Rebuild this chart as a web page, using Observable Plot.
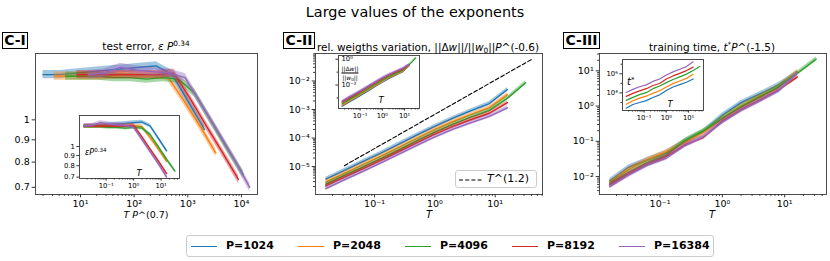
<!DOCTYPE html>
<html><head><meta charset="utf-8">
<script src="https://cdn.jsdelivr.net/npm/d3@7"></script>
<script src="https://cdn.jsdelivr.net/npm/@observablehq/plot@0.6"></script>
<style>
body{margin:0;background:#fff;font-family:"DejaVu Sans",sans-serif;color:#000;}
#fig{position:relative;width:830px;height:261px;overflow:hidden;background:#fff;}
.abs{position:absolute;white-space:nowrap;line-height:1;}
sup{font-size:70%;vertical-align:0.45em;line-height:0;}
sub{font-size:70%;vertical-align:-0.25em;line-height:0;}
.box{position:absolute;border:1.4px solid #000;font-weight:bold;font-size:14px;text-align:center;box-sizing:border-box;line-height:14px;}
</style></head><body><div id="fig"></div>
<script>
// ---------------- data ----------------
const P = [1024, 2048, 4096, 8192, 16384];
const seriesLabels = ["P=1024", "P=2048", "P=4096", "P=8192", "P=16384"];
const colors = ["#1f77b4", "#ff7f0e", "#2ca02c", "#d62728", "#9467bd"];
const T = [0.015625, 0.03125, 0.0625, 0.125, 0.25, 0.5, 1, 2, 4, 8, 16];
const T32 = [0.015625, 0.03125, 0.0625, 0.125, 0.25, 0.5, 1, 2, 4, 8, 16, 32];
const Tseries = [T, T, T32, T, T];

// C-I: test error  eps * P^0.34   (x axis: T * P^0.7)
const errScaled = [
  [1.27, 1.27, 1.28, 1.29, 1.30, 1.31, 1.32, 1.33, 1.27, 1.10, 0.95],
  [1.26, 1.26, 1.26, 1.26, 1.27, 1.27, 1.27, 1.26, 1.11, 0.97, 0.84],
  [1.26, 1.26, 1.26, 1.25, 1.25, 1.24, 1.25, 1.24, 1.15, 0.995, 0.86, 0.75],
  [1.27, 1.27, 1.27, 1.27, 1.27, 1.27, 1.28, 1.12, 0.97, 0.843, 0.73],
  [1.27, 1.28, 1.32, 1.30, 1.29, 1.28, 1.25, 1.085, 0.943, 0.817, 0.70]
];
// C-II: ||dw||/||w0|| * P^(-0.6)
const dwScaled = [
  [3.63e-6, 7.24e-6, 1.45e-5, 2.88e-5, 6.03e-5, 1.26e-4, 2.57e-4, 5.01e-4, 9.12e-4, 1.62e-3, 5.01e-3],
  [2.88e-6, 5.75e-6, 1.15e-5, 2.29e-5, 4.68e-5, 9.77e-5, 2.00e-4, 3.80e-4, 6.76e-4, 1.16e-3, 3.31e-3],
  [2.40e-6, 4.79e-6, 9.33e-6, 1.86e-5, 3.80e-5, 7.94e-5, 1.62e-4, 3.09e-4, 5.50e-4, 9.33e-4, 2.51e-3, 8.7e-3],
  [2.09e-6, 4.17e-6, 8.13e-6, 1.62e-5, 3.31e-5, 6.76e-5, 1.38e-4, 2.57e-4, 4.47e-4, 7.41e-4, 1.74e-3],
  [1.70e-6, 3.39e-6, 6.61e-6, 1.32e-5, 2.69e-5, 5.50e-5, 1.10e-4, 2.04e-4, 3.47e-4, 5.75e-4, 1.15e-3]
];
// C-III: t* * P^(-1.5)
const tScaled = [
  [7.6e-3, 0.0184, 0.030, 0.047, 0.100, 0.19, 0.55, 1.25, 2.2, 4.0, 8.8],
  [6.8e-3, 0.016, 0.030, 0.050, 0.095, 0.18, 0.45, 1.00, 1.9, 3.5, 9.5],
  [6.3e-3, 0.013, 0.025, 0.040, 0.105, 0.20, 0.45, 0.95, 1.8, 3.5, 8.5, 21.5],
  [5.8e-3, 0.012, 0.022, 0.037, 0.080, 0.13, 0.38, 0.80, 1.5, 2.9, 6.7],
  [5.2e-3, 0.011, 0.021, 0.033, 0.075, 0.135, 0.35, 0.75, 1.4, 2.7, 8.5]
];
// exponents used in the titles
const expX1 = 0.7, expErr = 0.34, expDw = -0.6, expT = -1.5;
// reference line T^(1.2)
const refT = [0.0316, 41];
const refCoef = 6.8e-4;
const refExp = 1.2;
// band half-widths (multiplicative)
const bandI = 1.022, bandII = 1.17, bandIII = 1.16;
// axis limits
const domI = {x: [1.45, 19900], y: [0.674, 1.42]};
const domInsetI = {y: [0.689, 1.435]};
const domII = {x: [0.0105, 60.8], y: [1.05e-6, 0.092]};
const domIII = {x: [0.01067, 46.9], y: [3.1e-3, 31]};
const yTicksErr = [0.7, 0.8, 0.9, 1];

// ---------------- helpers ----------------
const fig = document.getElementById("fig");
const SUP = {"-": "\u207B", "0": "\u2070", "1": "\u00B9", "2": "\u00B2", "3": "\u00B3", "4": "\u2074", "5": "\u2075", "6": "\u2076", "7": "\u2077", "8": "\u2078", "9": "\u2079"};
const pow10 = d => "10" + String(Math.round(Math.log10(d))).split("").map(c => SUP[c]).join("");
const blank = () => "";
function decades(dom) {
  const a = [];
  for (let e = Math.ceil(Math.log10(dom[0]) - 1e-9); e <= Math.floor(Math.log10(dom[1]) + 1e-9); e++) a.push(+(`1e${e}`));
  return a;
}
function minors(dom) {
  const a = [];
  for (let e = Math.floor(Math.log10(dom[0])); e <= Math.ceil(Math.log10(dom[1])); e++)
    for (let k = 2; k <= 9; k++) { const v = k * Math.pow(10, e); if (v >= dom[0] && v <= dom[1]) a.push(v); }
  return a;
}
function logDomain(vals, m = 0.05) {
  const lo = Math.log10(d3.min(vals)), hi = Math.log10(d3.max(vals)), s = (hi - lo) * m;
  return [Math.pow(10, lo - s), Math.pow(10, hi + s)];
}
function build(ys, xf, yf, band) {
  return ys.map((arr, i) => arr.map((v, j) => {
    const t = Tseries[i][j], y = yf(v, P[i]);
    return {x: xf(t, P[i]), y, lo: y / band, hi: y * band};
  }));
}
function txt(html, x, y, o = {}) {
  const d = document.createElement("div");
  d.className = "abs";
  d.innerHTML = html;
  d.style.left = x + "px"; d.style.top = y + "px";
  d.style.fontSize = (o.size || 10) + "px";
  if (o.weight) d.style.fontWeight = o.weight;
  const ax = o.anchor === "start" ? "0" : o.anchor === "end" ? "-100%" : "-50%";
  d.style.transform = `translate(${ax},-50%)`;
  fig.appendChild(d);
  return d;
}
function panel(o) {
  const [fl, ft, fr, fb] = o.frame, [pl, pt, pr, pb] = o.pad;
  const W = fr - fl + pl + pr, H = fb - ft + pt + pb;
  const marks = [];
  if (o.inset) marks.push(Plot.frame({fill: "white"}));
  o.series.forEach((d, i) => {
    if (o.band) marks.push(Plot.areaY(d, {x: "x", y1: "lo", y2: "hi", fill: colors[i], fillOpacity: 0.42, clip: true}));
    marks.push(Plot.line(d, {x: "x", y: "y", stroke: colors[i], strokeWidth: o.lw || 1.4, clip: true}));
  });
  if (o.extra) marks.push(...o.extra);
  marks.push(Plot.frame({stroke: "#3a3a3a", strokeWidth: 0.9}));
  const ax = {stroke: "#333", label: null, fontSize: o.fs};
  marks.push(Plot.axisX({...ax, ticks: o.xMajor, tickSize: o.ts, tickPadding: o.tp, tickFormat: o.xFmt}));
  if (o.xMinor && o.xMinor.length) marks.push(Plot.axisX({...ax, ticks: o.xMinor, tickSize: o.ts * 0.57, tickFormat: blank}));
  const yText = o.yInside ? {textAnchor: "start", tickPadding: -(o.ts + 3)} : {tickPadding: o.tp};
  marks.push(Plot.axisY({...ax, ticks: o.yMajor, tickSize: o.ts, tickFormat: o.yFmt, ...yText}));
  if (o.yMinor && o.yMinor.length) marks.push(Plot.axisY({...ax, ticks: o.yMinor, tickSize: o.ts * 0.57, tickFormat: blank}));
  const svg = Plot.plot({
    width: W, height: H, marginLeft: pl, marginTop: pt, marginRight: pr, marginBottom: pb,
    x: {type: "log", domain: o.xDomain},
    y: {type: "log", domain: o.yDomain},
    style: {background: "transparent", fontFamily: "DejaVu Sans", fontSize: o.fs + "px", color: "#000", overflow: "visible"},
    marks
  });
  svg.style.position = "absolute";
  svg.style.left = (fl - pl) + "px";
  svg.style.top = (ft - pt) + "px";
  fig.appendChild(svg);
}

// ---------------- data tables ----------------
const mainI = build(errScaled, (t, p) => t * Math.pow(p, expX1), v => v, bandI);
const insetI = build(errScaled, t => t, v => v, bandI);
const mainII = build(dwScaled, t => t, v => v, bandII);
const insetII = build(dwScaled, t => t, (v, p) => v * Math.pow(p, -expDw), bandII);
const mainIII = build(tScaled, t => t, v => v, bandIII);
const insetIII = build(tScaled, t => t, (v, p) => v * Math.pow(p, -expT), 1);
const refLine = refT.map(t => ({x: t, y: refCoef * Math.pow(t, refExp)}));

const Tdom = logDomain(T32);
const domInsetII = logDomain(insetII.flat().flatMap(d => [d.lo, d.hi]), 0.03);
const domInsetIII = logDomain(insetIII.flat().map(d => d.y));

const MAINPAD = [35, 4, 6, 22], INPAD = [28, 4, 4, 16];

// ---------------- main panels ----------------
panel({frame: [35, 53, 257, 194], pad: MAINPAD, xDomain: domI.x, yDomain: domI.y, series: mainI, band: true,
  xMajor: decades(domI.x), xMinor: minors(domI.x), yMajor: yTicksErr, xFmt: pow10, yFmt: d => String(d),
  fs: 9.5, ts: 3.3, tp: 2.5});
panel({frame: [315, 53, 542, 194], pad: MAINPAD, xDomain: domII.x, yDomain: domII.y, series: mainII, band: true,
  xMajor: decades(domII.x), xMinor: minors(domII.x), yMajor: decades(domII.y), yMinor: minors(domII.y),
  xFmt: pow10, yFmt: pow10, fs: 9.5, ts: 3.3, tp: 2.5,
  extra: [Plot.line(refLine, {x: "x", y: "y", stroke: "#000", strokeWidth: 1.1, strokeDasharray: "4,2.2"})]});
panel({frame: [599, 53, 826, 194], pad: [35, 4, 4, 22], xDomain: domIII.x, yDomain: domIII.y, series: mainIII, band: true,
  xMajor: decades(domIII.x), xMinor: minors(domIII.x), yMajor: decades(domIII.y), yMinor: minors(domIII.y),
  xFmt: pow10, yFmt: pow10, fs: 9.5, ts: 3.3, tp: 2.5});

// ---------------- insets ----------------
panel({inset: true, frame: [79, 115, 179, 178], pad: INPAD, xDomain: Tdom, yDomain: domInsetI.y, series: insetI, band: true,
  xMajor: decades(Tdom), xMinor: minors(Tdom), yMajor: yTicksErr, xFmt: pow10, yFmt: d => String(d),
  fs: 6.8, ts: 2.6, tp: 2, lw: 1.3});
panel({inset: true, yInside: true, frame: [338, 55, 419, 108], pad: INPAD, xDomain: Tdom, yDomain: domInsetII, series: insetII, band: true,
  xMajor: decades(Tdom), xMinor: minors(Tdom), yMajor: [1e-2, 1], yMinor: [1e-3, 1e-1], xFmt: pow10, yFmt: pow10,
  fs: 6.8, ts: 2.6, tp: 2, lw: 1.3});
panel({inset: true, frame: [622, 59, 703, 110], pad: INPAD, xDomain: Tdom, yDomain: domInsetIII, series: insetIII, band: false,
  xMajor: decades(Tdom), xMinor: minors(Tdom), yMajor: [1e4, 1e6], yMinor: [1e3, 1e5, 1e7], xFmt: pow10, yFmt: pow10,
  fs: 6.8, ts: 2.6, tp: 2, lw: 1.2});

// ---------------- texts ----------------
txt("Large values of the exponents", 415, 12, {size: 14.4});
const boxes = [["C-I", 2, 26], ["C-II", 283, 32], ["C-III", 563, 37]];
boxes.forEach(([s, l, w]) => {
  const b = document.createElement("div");
  b.className = "box"; b.textContent = s;
  b.style.left = l + "px"; b.style.top = "32px"; b.style.width = w + "px"; b.style.height = "17px";
  fig.appendChild(b);
});
txt("test error, <i>ε</i> <i>P</i><sup>0.34</sup>", 146, 46, {size: 10.5});
txt("rel. weigths variation, ||Δ<i>w</i>||/||<i>w</i><sub>0</sub>||<i>P</i>^(-0.6)", 428, 47, {size: 10.5});
txt("training time, <i>t</i><sup>*</sup><i>P</i>^(-1.5)", 712, 47, {size: 10.5});
txt("<i>T</i> <i>P</i>^(0.7)", 146, 215, {size: 9.5});
txt("<i>T</i>", 429, 215, {size: 10});
txt("<i>T</i>", 712, 215, {size: 10});
// inset labels
txt("<i>εP</i><sup>0.34</sup>", 85, 153, {size: 8, anchor: "start"});
txt("<i>T</i>", 139, 173, {size: 8.5});
txt("<span style='display:inline-block;text-align:center'><span style='display:block;border-bottom:0.7px solid #000;padding-bottom:1px'>||Δ<i>w</i>||</span><span style='display:block;padding-top:1px'>||<i>w</i><sub>0</sub>||</span></span>", 350, 72.5, {size: 6});
txt("<i>T</i>", 381, 100, {size: 8.5});
txt("<i>t</i><sup>*</sup>", 627, 82, {size: 10, anchor: "start"});
txt("<i>T</i>", 670, 104, {size: 8.5});

// reference-line legend (panel C-II)
const rl = document.createElement("div");
rl.className = "abs";
Object.assign(rl.style, {left: "455px", top: "170px", width: "82px", height: "18px", border: "1px solid #ccc", borderRadius: "3px", background: "rgba(255,255,255,0.85)", boxSizing: "border-box"});
rl.innerHTML = "<svg width='26' height='6' style='position:absolute;left:3px;top:6px'><line x1='0' y1='3' x2='23' y2='3' stroke='#000' stroke-width='1.1' stroke-dasharray='4,2.2'/></svg>" +
  "<span style='position:absolute;left:31px;top:2px;font-size:11px'><i>T</i>^(1.2)</span>";
fig.appendChild(rl);

// series legend
const lg = document.createElement("div");
lg.className = "abs";
Object.assign(lg.style, {left: "186px", top: "235px", width: "528px", height: "22px", border: "1px solid #ccc", borderRadius: "3px", boxSizing: "border-box"});
seriesLabels.forEach((s, i) => {
  const ln = document.createElement("div");
  Object.assign(ln.style, {position: "absolute", left: (4 + i * 107) + "px", top: "9.5px", width: "26px", height: "1.5px", background: colors[i]});
  lg.appendChild(ln);
  const tx = document.createElement("div");
  Object.assign(tx.style, {position: "absolute", left: (39 + i * 107) + "px", top: "4px", fontSize: "11px", fontWeight: "bold", lineHeight: "12px"});
  tx.textContent = s;
  lg.appendChild(tx);
});
fig.appendChild(lg);
</script></body></html>
